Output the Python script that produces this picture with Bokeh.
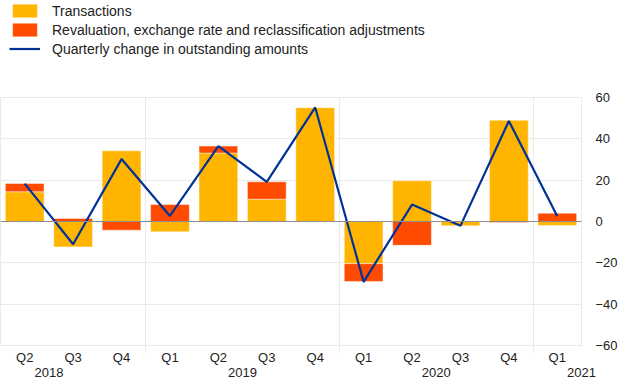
import numpy as np
from bokeh.plotting import figure
from bokeh.layouts import column
from bokeh.models import (Range1d, LinearAxis, FixedTicker, Span, Legend, LegendItem,
                          ColumnDataSource)
from bokeh.embed import file_html
from bokeh.resources import INLINE

# ---- data ----
quarters = ["Q2", "Q3", "Q4", "Q1", "Q2", "Q3", "Q4", "Q1", "Q2", "Q3", "Q4", "Q1"]
years = ["2018", "2019", "2020", "2021"]
year_positions = [0.5, 4.5, 8.5, 11.5]
year_boundaries = [2.5, 6.5, 10.5]
transactions = [14.4, -12.3, 34.2, -5.0, 33.1, 10.8, 55.1, -20.4, 19.7, -2.1, 49.0, -1.9]
revaluation = [4.0, 1.5, -4.2, 8.2, 3.4, 8.4, -0.3, -8.6, -11.5, 0.0, -0.5, 4.0]
quarterly_change = [18.3, -11.0, 30.2, 2.7, 36.5, 19.2, 55.2, -29.2, 8.2, -2.1, 48.6, 2.6]
y_ticks = [-60, -40, -20, 0, 20, 40, 60]
series_names = ["Transactions",
                "Revaluation, exchange rate and reclassification adjustments",
                "Quarterly change in outstanding amounts"]

YELLOW = "#FFB400"
ORANGE = "#FF4B00"
BLUE = "#003299"
GRID = "#EAEAEA"
TEXT = "#222222"
FONT = "Liberation Sans"

x = np.arange(len(quarters), dtype=float)
t = np.array(transactions)
r = np.array(revaluation)
same_sign = np.sign(t) == np.sign(r)
r_bottom = np.where(same_sign, t, 0.0)
r_top = r_bottom + r

src = ColumnDataSource(dict(x=x, t=t, r_bottom=r_bottom, r_top=r_top, c=quarterly_change))


def add_series(fig):
    a = fig.vbar(x="x", top="t", bottom=0, width=0.8, source=src, fill_color=YELLOW,
                 line_color="white", line_alpha=0.45, line_width=1)
    b = fig.vbar(x="x", top="r_top", bottom="r_bottom", width=0.8, source=src, fill_color=ORANGE,
                 line_color="white", line_alpha=0.45, line_width=1)
    return a, b


# ---------------- main chart ----------------
p = figure(width=620, height=300, output_backend="svg", toolbar_location=None,
           x_range=Range1d(-0.5, 11.5), y_range=Range1d(-60, 60),
           min_border_left=0, min_border_right=39, min_border_top=10,
           min_border_bottom=42, y_axis_location="right")
p.outline_line_color = GRID
p.background_fill_color = "white"
p.border_fill_color = "white"

p.ygrid.ticker = FixedTicker(ticks=[-40, -20, 20, 40])
p.ygrid.grid_line_color = GRID
p.xgrid.ticker = FixedTicker(ticks=year_boundaries)
p.xgrid.grid_line_color = GRID

add_series(p)
zero = Span(location=0, dimension="width", line_color="#8C8C8C", line_width=1, level="glyph")
p.add_layout(zero)
p.line(x="x", y="c", source=src, line_color=BLUE, line_width=2.2)

ya = p.yaxis[0]
ya.ticker = FixedTicker(ticks=y_ticks)
ya.axis_line_color = None
ya.major_tick_line_color = None
ya.minor_tick_line_color = None
ya.major_label_standoff = 8
ya.major_label_text_font = FONT
ya.major_label_text_font_size = "13px"
ya.major_label_text_color = TEXT

xa = p.xaxis[0]
xa.ticker = FixedTicker(ticks=list(x), minor_ticks=year_boundaries)
xa.major_label_overrides = {float(i): q for i, q in enumerate(quarters)}
xa.axis_line_color = None
xa.major_tick_line_color = None
xa.major_tick_out = 0
xa.major_tick_in = 0
xa.minor_tick_line_color = GRID
xa.minor_tick_out = 7
xa.minor_tick_in = 0
xa.major_label_standoff = -3
xa.major_label_text_font = FONT
xa.major_label_text_font_size = "13px"
xa.major_label_text_color = TEXT

xa2 = LinearAxis(ticker=FixedTicker(ticks=year_positions),
                 major_label_overrides={pos: yr for pos, yr in zip(year_positions, years)})
xa2.axis_line_color = None
xa2.major_tick_line_color = None
xa2.minor_tick_line_color = None
xa2.major_tick_out = 0
xa2.major_tick_in = 0
xa2.major_label_standoff = 0
xa2.major_label_text_font = FONT
xa2.major_label_text_font_size = "13px"
xa2.major_label_text_color = TEXT
p.add_layout(xa2, "below")

# ---------------- legend panel ----------------
lg = figure(width=620, height=87, output_backend="svg", toolbar_location=None,
            x_range=Range1d(-0.5, 11.5), y_range=Range1d(-60, 60),
            min_border=0, x_axis_location=None, y_axis_location=None)
lg.outline_line_color = None
lg.grid.visible = False
g1, g2 = add_series(lg)
g3 = lg.line(x="x", y="c", source=src, line_color=BLUE, line_width=2.2)
for g in (g1, g2, g3):
    g.visible = False

legend = Legend(items=[LegendItem(label=n, renderers=[g]) for n, g in zip(series_names, [g1, g2, g3])],
                orientation="vertical", location=(9, 30), click_policy="none")
legend.glyph_width = 31
legend.glyph_height = 17
legend.label_height = 14
legend.label_standoff = 12
legend.spacing = 2
legend.padding = 0
legend.margin = 0
legend.inactive_fill_alpha = 0
legend.border_line_color = None
legend.background_fill_alpha = 0
legend.label_text_font = FONT
legend.label_text_font_size = "14px"
legend.label_text_color = TEXT
lg.add_layout(legend, "center")

layout = column(lg, p, spacing=0)
open("out.html", "w").write(file_html(layout, INLINE))
